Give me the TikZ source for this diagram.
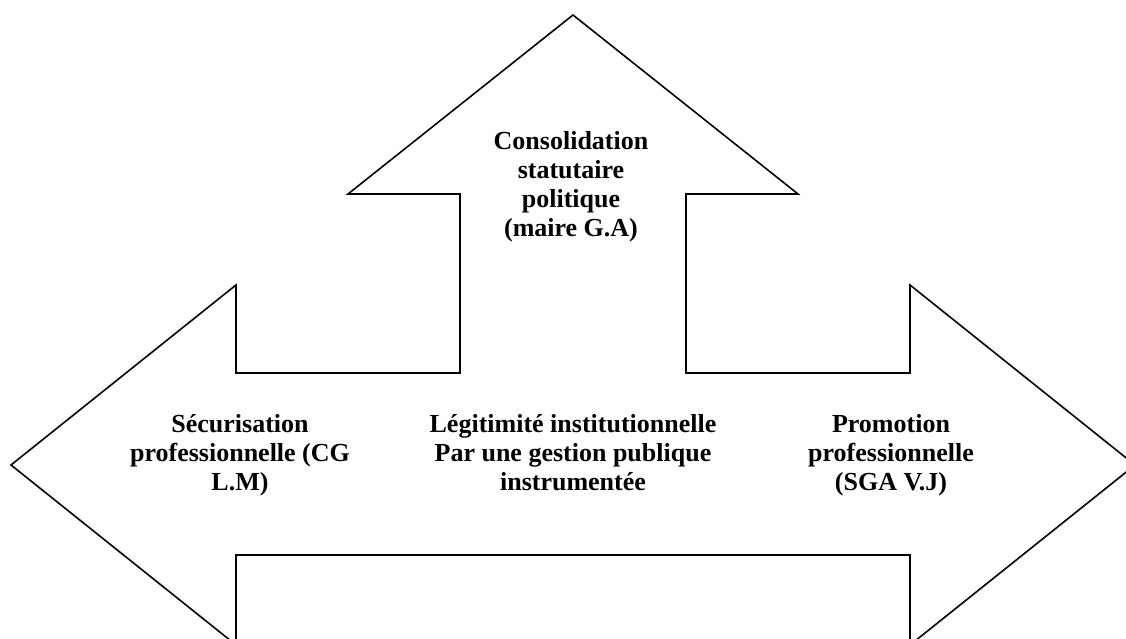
\documentclass[tikz,border=0pt]{standalone}
\usepackage{fontspec}
\setmainfont{Liberation Serif}
\begin{document}
\begin{tikzpicture}[x=1pt,y=-1pt,
  shapeline/.style={draw=black,line width=1.6pt,line join=miter},
  lbl/.style={font=\fontsize{26}{29}\selectfont\bfseries,align=center,inner sep=0pt}]
\useasboundingbox (0,0) rectangle (1126,638);
\clip (0,0) rectangle (1126,638);
\draw[shapeline] (573,15) -- (798,194) -- (686,194) -- (686,373) -- (910,373) -- (910,285)
  -- (1135,465) -- (910,645) -- (910,555) -- (236,555) -- (236,645) -- (11,465)
  -- (236,285) -- (236,373) -- (460,373) -- (460,194) -- (348,194) -- cycle;
\node[lbl] (up) at (571,187) {Consolidation\\statutaire\\politique\\(maire G.A)};
\node[lbl] (left) at (240,455) {Sécurisation\\professionnelle (CG\\L.M)};
\node[lbl] (mid) at (573,452.5) {Légitimité institutionnelle\\Par une gestion publique\\instrumentée};
\node[lbl] (right) at (891,455.5) {Promotion\\professionnelle\\(SGA V.J)};
\end{tikzpicture}
\end{document}
